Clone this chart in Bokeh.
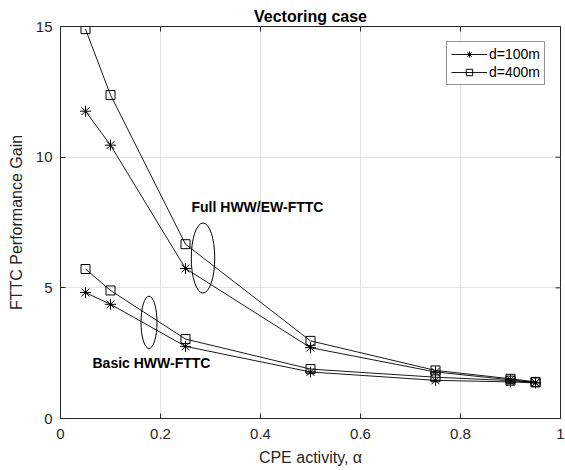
from bokeh.plotting import figure
from bokeh.models import Legend, LegendItem, Label, FixedTicker, Range1d
from bokeh.embed import file_html
from bokeh.resources import INLINE

alpha = [0.05, 0.1, 0.25, 0.5, 0.75, 0.9, 0.95]
full_100 = [11.76, 10.46, 5.74, 2.71, 1.78, 1.48, 1.38]
full_400 = [14.9, 12.38, 6.67, 2.97, 1.84, 1.52, 1.40]
basic_100 = [4.82, 4.37, 2.76, 1.78, 1.46, 1.40, 1.36]
basic_400 = [5.72, 4.90, 3.04, 1.89, 1.58, 1.45, 1.38]

x_ticks = [0, 0.2, 0.4, 0.6, 0.8, 1]
y_ticks = [0, 5, 10, 15]

FONT = "Liberation Sans"
DARK = "#262626"
X0, X1, Y0, Y1 = 0, 1, 0, 15

p = figure(width=565, height=470, output_backend="svg", toolbar_location=None,
           x_range=Range1d(X0, X1), y_range=Range1d(Y0, Y1),
           min_border_left=60, min_border_right=5, min_border_top=26,
           min_border_bottom=52)
p.title.text = "Vectoring case"
p.title.align = "center"
p.title.text_font = FONT
p.title.text_font_size = "16px"
p.title.text_font_style = "bold"
p.title.text_color = "black"
p.title.standoff = 3
p.title.offset = 0

p.outline_line_color = DARK
p.outline_line_width = 1
p.background_fill_color = "white"
p.border_fill_color = "white"

for ax in (p.xaxis[0], p.yaxis[0]):
    ax.major_label_text_font = FONT
    ax.major_label_text_font_size = "15px"
    ax.major_label_text_color = DARK
    ax.axis_label_text_font = FONT
    ax.axis_label_text_font_size = "16px"
    ax.axis_label_text_font_style = "normal"
    ax.axis_label_text_color = DARK
    ax.axis_line_color = DARK
    ax.major_tick_line_color = DARK
    ax.major_tick_in = 5
    ax.major_tick_out = 0
    ax.minor_tick_line_color = None

p.xaxis[0].ticker = FixedTicker(ticks=x_ticks)
p.yaxis[0].ticker = FixedTicker(ticks=y_ticks)
p.xaxis[0].axis_label = "CPE activity, α"
p.yaxis[0].axis_label = "FTTC Performance Gain"
p.xaxis[0].major_label_standoff = 10
p.yaxis[0].major_label_standoff = 8
p.xaxis[0].axis_label_standoff = 7
p.yaxis[0].axis_label_standoff = 8

# inward ticks on top and right edges (MATLAB box style)
tx = 5 / 500 * (X1 - X0)
ty = 5 / 392 * (Y1 - Y0)
p.segment(x0=x_ticks, y0=[Y1] * len(x_ticks), x1=x_ticks,
          y1=[Y1 - ty] * len(x_ticks), line_color=DARK, line_width=1)
p.segment(x0=[X1] * len(y_ticks), y0=y_ticks, x1=[X1 - tx] * len(y_ticks),
          y1=y_ticks, line_color=DARK, line_width=1)

p.xgrid.ticker = FixedTicker(ticks=x_ticks)
p.ygrid.ticker = FixedTicker(ticks=y_ticks)
p.grid.grid_line_color = "#e3e3e3"
p.grid.grid_line_width = 1

LW = 0.9
items_star = []
items_sq = []
for ys in (full_100, basic_100):
    l = p.line(alpha, ys, line_color="black", line_width=LW)
    s = p.scatter(alpha, ys, marker="asterisk", size=11, line_color="black", line_width=1)
    items_star += [l, s]
for ys in (full_400, basic_400):
    l = p.line(alpha, ys, line_color="black", line_width=LW)
    s = p.scatter(alpha, ys, marker="square", size=9, line_color="black",
                  fill_color=None, line_width=1)
    items_sq += [l, s]

legend = Legend(items=[LegendItem(label="d=100m", renderers=items_star[:2]),
                       LegendItem(label="d=400m", renderers=items_sq[:2])],
                location="top_right")
legend.label_text_font = FONT
legend.label_text_font_size = "14px"
legend.label_text_color = "black"
legend.border_line_color = DARK
legend.border_line_width = 1
legend.margin = 15
legend.padding = 4
legend.spacing = 2
legend.glyph_width = 36
legend.glyph_height = 16
legend.label_height = 16
legend.label_standoff = 2
p.add_layout(legend)

# annotation ellipses
p.ellipse(x=[0.285], y=[6.14], width=0.047, height=2.68, fill_color=None,
          line_color="black", line_width=1)
p.ellipse(x=[0.177], y=[3.68], width=0.032, height=2.0, fill_color=None,
          line_color="black", line_width=1)

p.add_layout(Label(x=0.262, y=8.1, text="Full HWW/EW-FTTC", text_font=FONT,
                   text_font_size="14px", text_font_style="bold",
                   text_baseline="middle", text_color="black"))
p.add_layout(Label(x=0.064, y=2.12, text="Basic HWW-FTTC", text_font=FONT,
                   text_font_size="14px", text_font_style="bold",
                   text_baseline="middle", text_color="black"))

open("out.html", "w").write(file_html(p, INLINE))
